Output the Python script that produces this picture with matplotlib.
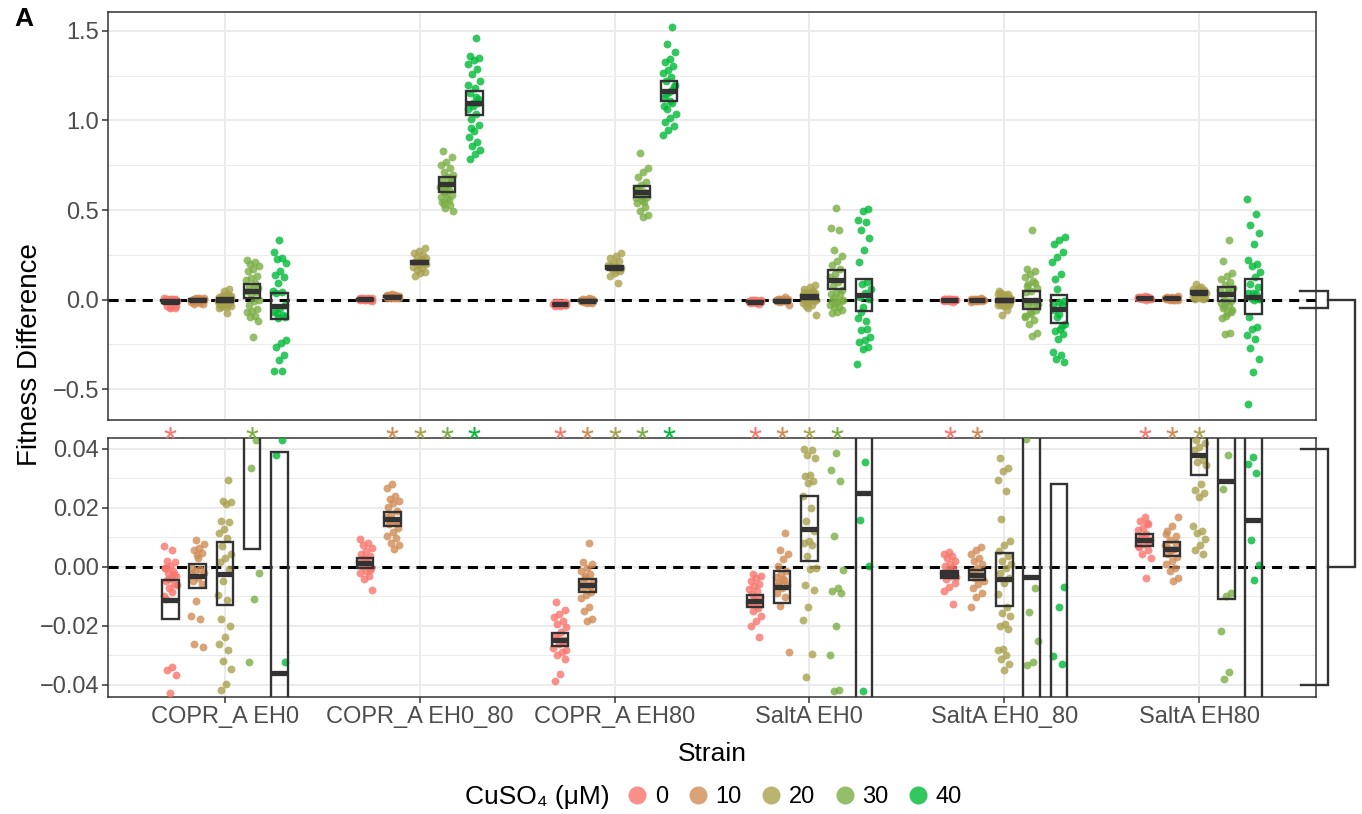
import numpy as np
import matplotlib
matplotlib.use("Agg")
import matplotlib.pyplot as plt
from matplotlib.patches import Rectangle
from matplotlib.lines import Line2D
from matplotlib.transforms import blended_transform_factory

plt.rcParams['font.family'] = ['Liberation Sans', 'DejaVu Sans']

strains = ["COPR_A EH0", "COPR_A EH0_80", "COPR_A EH80", "SaltA EH0", "SaltA EH0_80", "SaltA EH80"]
concs = ["0", "10", "20", "30", "40"]
colors = ["#F8766D", "#D08B55", "#A8A24E", "#7AAE43", "#00BA38"]

# fitness difference per replicate, one list per CuSO4 level
copr_eh0 = [
    [0.0071, 0.0056, 0.0020, 0.0015, 0.0003, -0.0002, -0.0013, -0.0019, -0.0030, -0.0036, -0.0047, -0.0058, -0.0070,
     -0.0098, -0.0339, -0.0348, -0.0367, -0.0429, -0.0005, -0.0025, -0.0041, -0.0063, -0.0085, -0.0110, -0.046, -0.050],
    [0.0090, 0.0076, 0.0065, 0.0056, 0.0048, 0.0040, -0.0002, -0.0008, -0.0013, -0.0019, -0.0036, -0.0047, -0.0058,
     -0.0115, -0.0165, -0.0176, -0.0263, -0.0270, 0.0030, -0.0025],
    [0.0296, 0.0225, 0.0220, 0.0213, 0.0157, 0.0153, 0.0127, 0.0116, 0.0097, 0.0071, 0.0043, 0.0031, 0.0015, -0.0008,
     -0.0047, -0.0094, -0.0111, -0.0176, -0.0199, -0.0238, -0.0261, -0.0283, -0.0319, -0.0345, -0.0396, -0.0418,
     0.058, 0.048, -0.048, -0.073],
    [0.220, 0.212, 0.200, 0.188, 0.170, 0.160, 0.130, 0.118, 0.108, 0.090, 0.078, 0.066, 0.058, 0.050, 0.0430, 0.0335,
     -0.0021, -0.0109, -0.0322, -0.052, -0.062, -0.072, -0.090, -0.100, -0.118, -0.208],
    [0.332, 0.263, 0.230, 0.224, 0.202, 0.160, 0.136, 0.127, 0.090, 0.049, 0.0430, 0.0380, -0.0322, -0.050, -0.069,
     -0.088, -0.106, -0.226, -0.245, -0.264, -0.310, -0.340, -0.400, -0.402, -0.075, -0.095],
]
copr_eh0_80 = [
    [0.0093, 0.0082, 0.0074, 0.0063, 0.0054, 0.0045, 0.0037, 0.0029, 0.0020, 0.0011, 0.0003, -0.0004, -0.0013, -0.0021,
     -0.0030, -0.0042, -0.0079, 0.0015, 0.0008, -0.0010, 0.0025],
    [0.0281, 0.0267, 0.0239, 0.0231, 0.0222, 0.0215, 0.0202, 0.0191, 0.0180, 0.0169, 0.0155, 0.0144, 0.0133, 0.0119,
     0.0104, 0.0097, 0.0082, 0.0074, 0.0060, 0.0160, 0.0150],
    [0.286, 0.273, 0.258, 0.248, 0.239, 0.230, 0.220, 0.211, 0.202, 0.192, 0.183, 0.174, 0.164, 0.155, 0.146, 0.131,
     0.215, 0.205, 0.198, 0.225],
    [0.831, 0.796, 0.766, 0.753, 0.734, 0.715, 0.697, 0.684, 0.669, 0.654, 0.639, 0.626, 0.613, 0.598, 0.585, 0.566,
     0.547, 0.529, 0.510, 0.497, 0.640, 0.620, 0.660, 0.600, 0.575, 0.555, 0.535],
    [1.459, 1.360, 1.350, 1.337, 1.313, 1.289, 1.257, 1.220, 1.182, 1.151, 1.121, 1.095, 1.065, 1.038, 1.009, 0.977,
     0.939, 0.908, 0.878, 0.859, 0.837, 0.814, 0.784, 1.100, 1.080, 1.200, 1.130, 0.960],
]
copr_eh80 = [
    [-0.0120, -0.0146, -0.0160, -0.0169, -0.0184, -0.0193, -0.0204, -0.0221, -0.0236, -0.0249, -0.0263, -0.0274,
     -0.0289, -0.0297, -0.0312, -0.0362, -0.0387, -0.0255, -0.0240, -0.0280],
    [0.0082, 0.0018, 0.0009, -0.0002, -0.0013, -0.0025, -0.0038, -0.0049, -0.0061, -0.0072, -0.0084, -0.0094, -0.0106,
     -0.0136, -0.0151, -0.0176, -0.0184, -0.0055, -0.0068, -0.0030],
    [0.258, 0.243, 0.230, 0.217, 0.205, 0.192, 0.183, 0.172, 0.161, 0.149, 0.134, 0.090, 0.180, 0.175, 0.165, 0.188],
    [0.818, 0.734, 0.715, 0.687, 0.659, 0.641, 0.622, 0.603, 0.588, 0.572, 0.557, 0.538, 0.519, 0.497, 0.473, 0.459,
     0.610, 0.595, 0.580, 0.565, 0.545],
    [1.524, 1.425, 1.382, 1.345, 1.326, 1.304, 1.281, 1.263, 1.244, 1.220, 1.188, 1.158, 1.126, 1.095, 1.065, 1.038,
     1.014, 0.990, 0.971, 0.945, 0.921, 1.170, 1.150, 1.200, 1.110, 1.080],
]
salta_eh0 = [
    [-0.0025, -0.0030, -0.0038, -0.0047, -0.0058, -0.0066, -0.0075, -0.0083, -0.0092, -0.0103, -0.0115, -0.0126,
     -0.0139, -0.0151, -0.0165, -0.0182, -0.0199, -0.0238, -0.0110, -0.0120, -0.0130],
    [0.0116, 0.0056, 0.0043, 0.0026, 0.0003, -0.0013, -0.0025, -0.0034, -0.0043, -0.0052, -0.0061, -0.0072, -0.0087,
     -0.0101, -0.0131, -0.0289, -0.0040, -0.0060],
    [0.0400, 0.0397, 0.0378, 0.0369, 0.0312, 0.0307, 0.0290, 0.0284, 0.0239, 0.0200, 0.0157, 0.0121, 0.0088, 0.0082,
     0.0074, 0.0037, -0.0002, -0.0008, -0.0061, -0.0078, -0.0135, -0.0179, -0.0294, -0.0373, 0.080, 0.070, 0.060,
     0.050, -0.050, -0.087],
    [0.512, 0.400, 0.387, 0.276, 0.242, 0.216, 0.192, 0.168, 0.145, 0.123, 0.099, 0.074, 0.052, 0.0385, 0.0329, 0.0292,
     0.0104, -0.0010, -0.0070, -0.0081, -0.0089, -0.0199, -0.0297, -0.0418, -0.0420, -0.060, -0.069, -0.078],
    [0.508, 0.495, 0.443, 0.432, 0.391, 0.341, 0.276, 0.210, 0.099, 0.085, 0.060, 0.0354, 0.0160, 0.0003, -0.0420,
     -0.106, -0.162, -0.170, -0.209, -0.227, -0.236, -0.264, -0.274, -0.358, -0.120, -0.070],
]
salta_eh0_80 = [
    [0.0052, 0.0045, 0.0037, 0.0029, 0.0020, 0.0011, 0.0003, -0.0004, -0.0013, -0.0022, -0.0031, -0.0042, -0.0053,
     -0.0067, -0.0081, -0.0126, -0.0025, -0.0035, -0.0018],
    [0.0067, 0.0056, 0.0043, 0.0029, 0.0020, 0.0009, -0.0002, -0.0013, -0.0025, -0.0036, -0.0047, -0.0058, -0.0072,
     -0.0090, -0.0103, -0.0137, -0.0030, -0.0020],
    [0.0369, 0.0335, 0.0324, 0.0296, 0.0258, 0.0161, 0.0088, 0.0074, 0.0054, 0.0037, 0.0020, 0.0011, -0.0004, -0.0019,
     -0.0038, -0.0053, -0.0092, -0.0137, -0.0157, -0.0165, -0.0193, -0.0202, -0.0210, -0.0278, -0.0283, -0.0300,
     -0.0311, -0.0328, -0.0351, 0.050, -0.060, -0.085],
    [0.391, 0.173, 0.158, 0.142, 0.123, 0.104, 0.086, 0.067, 0.048, 0.0434, -0.0073, -0.0153, -0.0251, -0.0323,
     -0.0334, -0.060, -0.082, -0.100, -0.115, -0.134, -0.186, -0.203, 0.075, 0.095, -0.070, -0.090],
    [0.350, 0.335, 0.309, 0.266, 0.235, 0.210, 0.142, 0.112, -0.0068, -0.0137, -0.0301, -0.0328, -0.097, -0.134,
     -0.162, -0.175, -0.190, -0.218, -0.292, -0.311, -0.330, -0.348, -0.080, -0.060, -0.150, 0.060],
]
salta_eh80 = [
    [0.0169, 0.0155, 0.0144, 0.0133, 0.0124, 0.0112, 0.0101, 0.0090, 0.0079, 0.0067, 0.0056, 0.0045, 0.0031, -0.0038,
     0.0095, 0.0085, 0.0105, 0.0072, 0.0150],
    [0.0169, 0.0138, 0.0121, 0.0104, 0.0090, 0.0074, 0.0060, 0.0045, 0.0034, 0.0020, 0.0009, -0.0004, -0.0013, -0.0038,
     -0.0049, 0.0065, 0.0080, 0.0055, 0.0110],
    [0.0430, 0.0419, 0.0408, 0.0397, 0.0363, 0.0355, 0.0346, 0.0281, 0.0262, 0.0251, 0.0237, 0.0138, 0.0121, 0.0116,
     0.0093, 0.0074, 0.0056, 0.0045, 0.050, 0.060, 0.070, 0.085, 0.055, 0.065],
    [0.335, 0.214, 0.149, 0.134, 0.117, 0.099, 0.080, 0.067, 0.0378, 0.0265, -0.0087, -0.0098, -0.0218, -0.0356,
     -0.0379, -0.060, -0.078, -0.106, -0.186, -0.190, 0.055, 0.045, -0.050, -0.070, -0.090],
    [0.564, 0.480, 0.415, 0.372, 0.309, 0.223, 0.197, 0.186, 0.155, 0.127, 0.089, 0.071, 0.0374, 0.0350, 0.0317,
     0.0090, 0.0006, -0.0043, -0.097, -0.153, -0.165, -0.199, -0.218, -0.270, -0.330, -0.404, -0.581],
]
data = [copr_eh0, copr_eh0_80, copr_eh80, salta_eh0, salta_eh0_80, salta_eh80]

# mean and standard error drawn as crossbars
means = [
    [-0.0111, -0.0031, -0.0023, 0.045, -0.036],
    [0.0012, 0.0162, 0.207, 0.643, 1.100],
    [-0.0247, -0.0063, 0.178, 0.603, 1.167],
    [-0.0115, -0.0068, 0.0130, 0.110, 0.025],
    [-0.0025, -0.0028, -0.0042, -0.0033, -0.051],
    [0.0091, 0.0060, 0.038, 0.029, 0.016],
]
ses = [
    [0.0066, 0.0040, 0.0106, 0.039, 0.075],
    [0.0017, 0.0024, 0.007, 0.040, 0.067],
    [0.0022, 0.0021, 0.008, 0.030, 0.056],
    [0.0020, 0.0055, 0.011, 0.054, 0.088],
    [0.0012, 0.0018, 0.0090, 0.052, 0.079],
    [0.0020, 0.0023, 0.0068, 0.040, 0.097],
]
# significance stars
signif = [
    [1, 0, 0, 1, 0],
    [0, 1, 1, 1, 1],
    [1, 1, 1, 1, 1],
    [1, 1, 1, 1, 0],
    [1, 1, 0, 0, 0],
    [1, 1, 1, 0, 0],
]

W, H = 1362, 814
fig = plt.figure(figsize=(W / 100, H / 100), dpi=100)


def fig_box(l, t, r, b):
    return [l / W, 1 - b / H, (r - l) / W, (b - t) / H]


ax_top = fig.add_axes(fig_box(108, 12, 1316, 420))
ax_bot = fig.add_axes(fig_box(108, 438, 1316, 697))

offsets = (np.arange(5) - 2) * 0.14
box_w = 0.085
jit = 0.035
edge = "#333333"

for ax in (ax_top, ax_bot):
    ax.set_xlim(0.4, 6.6)
    ax.set_axisbelow(True)
    ax.axhline(0, color="black", ls=(0, (3.3, 2.3)), lw=2.2, zorder=2)
    for i in range(len(strains)):
        for j in range(len(concs)):
            vals = np.array(data[i][j])
            k = np.arange(len(vals))
            dx = ((k * 0.618034 + 0.37 * j + 0.11 * i) % 1 - 0.5) * 2 * jit
            xc = i + 1 + offsets[j]
            ax.scatter(xc + dx, vals, s=32, color=colors[j], alpha=0.8, lw=0, zorder=3)
            m, s = means[i][j], ses[i][j]
            ax.add_patch(Rectangle((xc - box_w / 2, m - s), box_w, 2 * s, fill=False,
                                   ec=edge, lw=1.7, zorder=4))
            ax.plot([xc - box_w / 2, xc + box_w / 2], [m, m], color=edge, lw=3.8,
                    solid_capstyle="butt", zorder=4)
    ax.set_xticks(range(1, 7))
    ax.grid(which="major", color="#EBEBEB", lw=1.4)
    ax.grid(which="minor", axis="y", color="#EBEBEB", lw=0.7)
    for sp in ax.spines.values():
        sp.set_color(edge)
        sp.set_linewidth(1.1)
    ax.tick_params(which="major", length=4, width=1.1, color=edge, labelcolor="#4D4D4D",
                   labelsize=17, pad=2.5)
    ax.tick_params(which="minor", length=0)

ax_top.set_ylim(-0.673, 1.606)
ax_top.set_yticks([-0.5, 0, 0.5, 1.0, 1.5])
ax_top.set_yticklabels(["\u22120.5", "0.0", "0.5", "1.0", "1.5"])
ax_top.set_yticks([-0.25, 0.25, 0.75, 1.25], minor=True)
ax_top.tick_params(axis="x", length=0, labelbottom=False)

ax_bot.set_ylim(-0.0441, 0.0437)
ax_bot.set_yticks([-0.04, -0.02, 0, 0.02, 0.04])
ax_bot.set_yticklabels(["\u22120.04", "\u22120.02", "0.00", "0.02", "0.04"])
ax_bot.set_yticks([-0.03, -0.01, 0.01, 0.03], minor=True)
ax_bot.set_xticklabels(strains)

# stars between the panels
star_tr = blended_transform_factory(ax_bot.transData, ax_bot.transAxes)
for i in range(len(strains)):
    for j in range(len(concs)):
        if signif[i][j]:
            ax_bot.text(i + 1 + offsets[j], 1.0 + 13 / 259, "*", transform=star_tr, color=colors[j],
                        fontsize=24, ha="center", va="top", clip_on=False)


# bracket linking the zoomed region to the lower panel
def fig_pt(ax, x_px, y):
    yd = ax.transData.transform((1, y))[1]
    return x_px / W, yd / H


def bracket(pts, ax):
    xs, ys = zip(*[fig_pt(ax, px, y) for px, y in pts])
    fig.add_artist(Line2D(xs, ys, color=edge, lw=1.7, solid_joinstyle="miter"))


bracket([(1300, 0.05), (1328, 0.05), (1328, -0.05), (1300, -0.05)], ax_top)
bracket([(1301, 0.04), (1328, 0.04), (1328, -0.04), (1301, -0.04)], ax_bot)
p1 = fig_pt(ax_top, 1328, 0)
p2 = fig_pt(ax_top, 1355, 0)
p3 = fig_pt(ax_bot, 1355, 0)
p4 = fig_pt(ax_bot, 1328, 0)
fig.add_artist(Line2D([p1[0], p2[0], p3[0], p4[0]], [p1[1], p2[1], p3[1], p4[1]],
                      color=edge, lw=1.7, solid_joinstyle="miter"))

fig.text(24 / W, 1 - 19 / H, "A", weight="bold", fontsize=19, ha="center", va="center")
fig.text(30 / W, 1 - 355 / H, "Fitness Difference", rotation=90, fontsize=20, ha="center", va="center")
fig.text(712 / W, 1 - 754 / H, "Strain", fontsize=19, ha="center", va="center")

handles = [Line2D([], [], marker="o", ls="", ms=13, color=c, alpha=0.8, mec="none") for c in colors]
fig.legend(handles, concs, loc="center left", bbox_to_anchor=(622 / W, 1 - 797 / H), ncol=5,
           frameon=False, fontsize=17, handletextpad=0.1, columnspacing=0.6, handlelength=1.3,
           borderaxespad=0, borderpad=0)
fig.text(610 / W, 1 - 797 / H, "CuSO\u2084 (\u03bcM)", fontsize=19, ha="right", va="center")

fig.savefig("out.png", dpi=100)
